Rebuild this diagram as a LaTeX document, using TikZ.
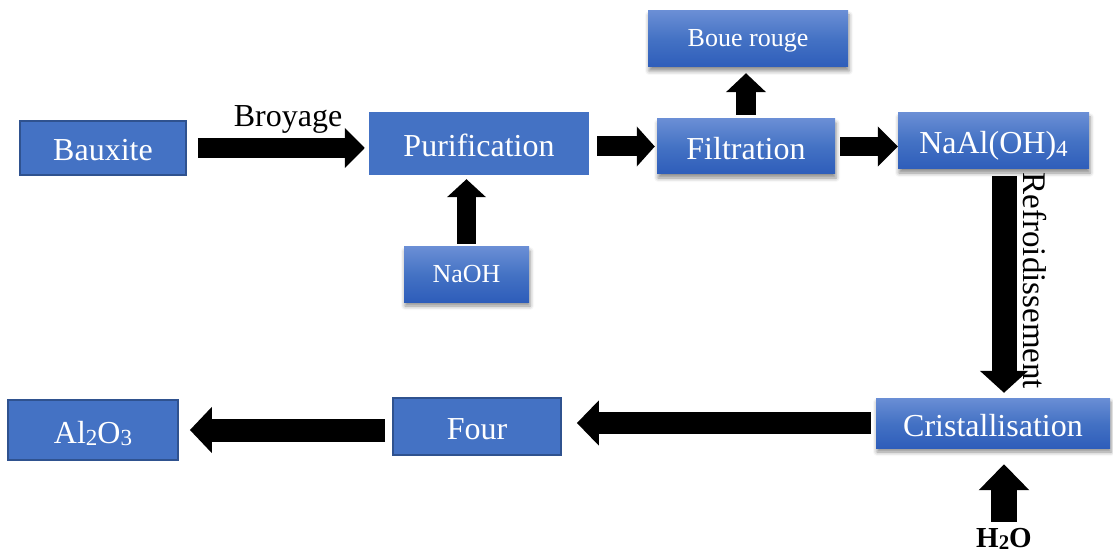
\documentclass[tikz,border=0pt]{standalone}
\usepackage{fontspec}
\setmainfont{Liberation Serif}
\usetikzlibrary{arrows.meta, shadows.blur}

\definecolor{boxblue}{HTML}{4472C4}
\definecolor{boxedge}{HTML}{2F528F}
\definecolor{shadetop}{HTML}{6A8ED5}
\definecolor{shadebot}{HTML}{2E5DBA}

% small digits sitting just under the baseline
\newcommand{\ind}[1]{\raisebox{-0.08em}{\scalebox{0.72}{#1}}}

\begin{document}
\begin{tikzpicture}[
                x=1pt, y=-1pt,
                flat/.style={
                    fill=boxblue,
                    text=white,
                    inner sep=0pt,
                    text height=26pt,
                    text depth=0pt,
                    font=\fontsize{32}{36}\selectfont,
                },
                framed/.style={flat, draw=boxedge, line width=1.8pt},
                shaded/.style={
                    flat,
                    top color=shadetop,
                    bottom color=shadebot,
                    middle color=boxblue,
                    blur shadow={shadow xshift=1pt, shadow yshift=-4pt,
                        shadow blur radius=4pt, shadow opacity=45},
                },
                small/.style={
                    text height=15pt,
                    font=\fontsize{26}{30}\selectfont,
                },
                flow/.style n args={3}{
                    draw=black,
                    line width=#1pt,
                    -{Triangle[length=#3pt, width=#2pt]},
                },
            ]
            \useasboundingbox (0,0) rectangle (1113,553);

            \node[framed, minimum width=166, minimum height=54] (B) at (103,148) {Bauxite};
            \node[flat, minimum width=220, minimum height=63] (P) at (479,143.5) {Purification};
            \node[shaded, small, minimum width=125, minimum height=55] (O) at (466.5,274.5) {NaOH};
            \node[shaded, minimum width=178, minimum height=55] (F) at (746,146.5) {Filtration};
            \node[shaded, small, minimum width=200, minimum height=56] (R) at (748,39) {Boue rouge};
            \node[shaded, minimum width=191, minimum height=56] (A) at (993.5,141) {NaAl(OH)\ind{4}};
            \node[shaded, minimum width=234, minimum height=50] (C) at (993,423) {Cristallisation};
            \node[framed, minimum width=168, minimum height=57] (K) at (477,426.5) {Four};
            \node[framed, minimum width=170, minimum height=60] (Z) at (93,430) {Al\ind{2}O\ind{3}};

            \node[anchor=base, inner sep=0pt, font=\fontsize{29}{32}\selectfont\bfseries] (W) at (1004,547) {H\ind{2}O};
            \node[anchor=base, inner sep=0pt, font=\fontsize{32}{36}\selectfont] (L1) at (288,127) {Broyage};
            \node[rotate=-90, inner sep=0pt, font=\fontsize{33}{36}\selectfont] (L2) at (1035,281) {Refroidissement};

            \draw[flow={20}{39}{20}, shorten <=11pt, shorten >=4pt] (B.east) -- (P.west |- B.east);
            \draw[flow={20}{39}{18}, shorten <=8pt, shorten >=2pt] (P.east |- F.west) -- (F.west);
            \draw[flow={19}{39}{20}, shorten <=5pt] (F.east) -- (A.west |- F.east);
            \draw[flow={20}{39}{19}, shorten <=4pt, shorten >=6pt] (F.north) -- (R.south -| F.north);
            \draw[flow={19}{38}{18}, shorten <=3pt, shorten >=4pt] (O.north) -- (P.south -| O.north);
            \draw[flow={25}{47}{22}, shorten <=7pt, shorten >=5pt] (A.south -| W) -- (C.north -| W);
            \draw[flow={22}{44}{22}, shorten <=5pt, shorten >=15pt] (C.west) -- (K.east |- C.west);
            \draw[flow={23}{45}{22}, shorten <=7pt, shorten >=11pt] (K.west |- Z.east) -- (Z.east);
            \draw[flow={26}{49}{26}, shorten <=6pt, shorten >=16pt] (W.north) -- (C.south -| W.north);
        \end{tikzpicture}
\end{document}
